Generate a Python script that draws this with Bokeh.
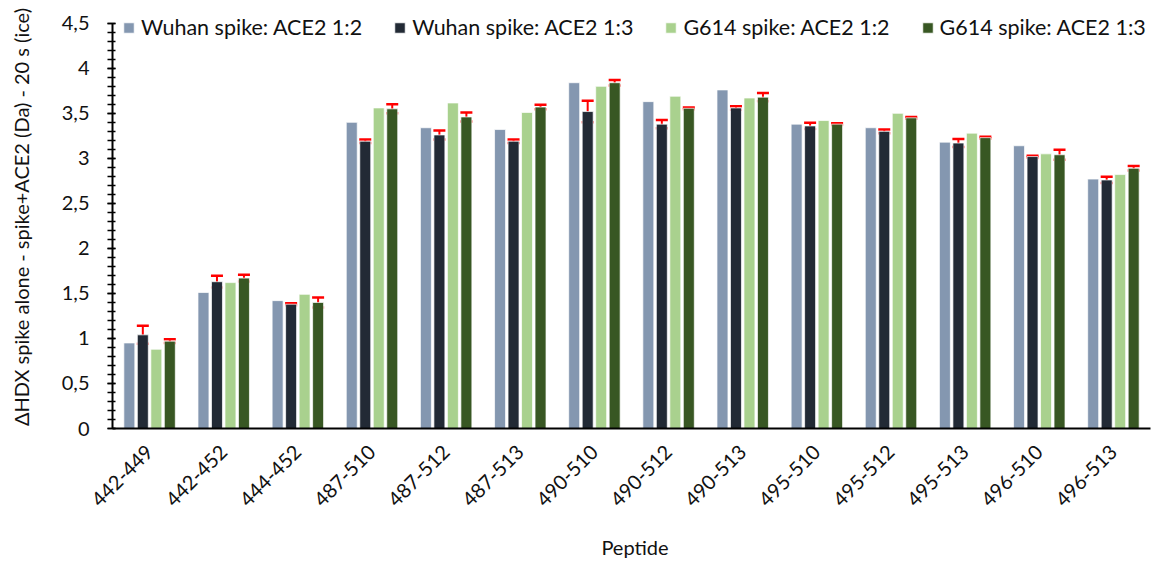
from bokeh.plotting import figure
from bokeh.models import (ColumnDataSource, Whisker, TeeHead, Legend, LegendItem,
                          Range1d, FixedTicker)
from bokeh.embed import file_html
from bokeh.resources import INLINE
import math

# Peptide groups on the x axis
peptides = ["442-449", "442-452", "444-452", "487-510", "487-512", "487-513", "490-510",
            "490-512", "490-513", "495-510", "495-512", "495-513", "496-510", "496-513"]

# Deuterium uptake difference (Da) per condition
wuhan_12 = [0.95, 1.51, 1.42, 3.40, 3.34, 3.32, 3.84, 3.63, 3.76, 3.38, 3.34, 3.18, 3.14, 2.77]
wuhan_13 = [1.04, 1.63, 1.38, 3.19, 3.26, 3.19, 3.52, 3.38, 3.56, 3.36, 3.30, 3.17, 3.02, 2.76]
wuhan_13_err = [0.10, 0.065, 0.01, 0.02, 0.05, 0.02, 0.12, 0.045, 0.02, 0.035, 0.02, 0.045, 0.01, 0.035]
g614_12 = [0.88, 1.62, 1.49, 3.56, 3.615, 3.51, 3.80, 3.69, 3.67, 3.42, 3.50, 3.28, 3.05, 2.82]
g614_13 = [0.97, 1.67, 1.40, 3.55, 3.46, 3.57, 3.84, 3.556, 3.68, 3.38, 3.45, 3.23, 3.04, 2.89]
g614_13_err = [0.02, 0.037, 0.056, 0.05, 0.05, 0.025, 0.03, 0.01, 0.045, 0.01, 0.01, 0.01, 0.055, 0.025]

series_names = ["Wuhan spike: ACE2 1:2", "Wuhan spike: ACE2 1:3",
                "G614 spike: ACE2 1:2", "G614 spike: ACE2 1:3"]
series_values = [wuhan_12, wuhan_13, g614_12, g614_13]
series_errors = [None, wuhan_13_err, None, g614_13_err]
colors = ["#8497B0", "#222A35", "#A9D18E", "#385723"]

y_ticks = [0, 0.5, 1, 1.5, 2, 2.5, 3, 3.5, 4, 4.5]
Y_MAX = 4.5

FONT = "Lato"
TEXT = "#111111"

n = len(peptides)
centers = [i + 0.5 for i in range(n)]
offsets = [-0.273, -0.091, 0.091, 0.273]
bar_w = 0.148

# frame reaches up into the legend strip and out to the right edge;
# the axes themselves stop at the data limits
frame_h, axis_h = 428, 410
frame_w, axis_w = 1045, 1038
p = figure(width=1157, height=561, output_backend="svg", toolbar_location=None,
           x_range=Range1d(0, n * frame_w / axis_w),
           y_range=Range1d(0, Y_MAX * frame_h / axis_h),
           min_border_left=112, min_border_right=0, min_border_top=5, min_border_bottom=128)
p.outline_line_color = None
p.grid.visible = False
p.background_fill_color = "white"
p.border_fill_color = "white"

items = []
for k, (name, vals, errs, col) in enumerate(zip(series_names, series_values, series_errors, colors)):
    xs = [c + offsets[k] for c in centers]
    data = dict(x=xs, top=vals)
    if errs is not None:
        data["upper"] = [v + e for v, e in zip(vals, errs)]
        data["lower"] = [v - e for v, e in zip(vals, errs)]
    src = ColumnDataSource(data)
    r = p.vbar(x="x", top="top", width=bar_w, source=src, fill_color=col,
               line_color="white", line_alpha=0.7, line_width=1)
    items.append(LegendItem(label=name, renderers=[r]))
    if errs is not None:
        w = Whisker(source=src, base="x", upper="upper", lower="lower",
                    line_color="#FF0000", line_width=2,
                    upper_head=TeeHead(size=12, line_color="#FF0000", line_width=2.5),
                    lower_head=TeeHead(size=12, line_color="#FF0000", line_width=2.5))
        p.add_layout(w)

legend = Legend(items=items, orientation="horizontal", location=(10, 388),
                padding=0, margin=0, spacing=31, label_standoff=6,
                glyph_width=13, glyph_height=13,
                label_text_font=FONT, label_text_font_size="21.5px", label_text_color=TEXT,
                background_fill_alpha=0, border_line_color=None)
p.add_layout(legend, "center")

# x axis: one tick per peptide, labels rotated
p.xaxis.bounds = (0, n)
p.xaxis.ticker = FixedTicker(ticks=centers)
p.xaxis.major_label_overrides = {c: lab for c, lab in zip(centers, peptides)}
p.xaxis.major_label_orientation = math.pi / 4
p.xaxis.major_tick_line_color = None
p.xaxis.minor_tick_line_color = None
p.xaxis.axis_line_color = "black"
p.xaxis.axis_line_width = 2
p.xaxis.major_label_text_font = FONT
p.xaxis.major_label_text_font_size = "20px"
p.xaxis.major_label_text_color = TEXT
p.xaxis.major_label_standoff = 14
p.xaxis.axis_label = "Peptide"
p.xaxis.axis_label_text_font = FONT
p.xaxis.axis_label_text_font_size = "20px"
p.xaxis.axis_label_text_font_style = "normal"
p.xaxis.axis_label_text_color = TEXT
p.xaxis.axis_label_standoff = 19

# y axis with decimal commas and minor ticks every 0.1
p.yaxis.bounds = (0, Y_MAX)
p.yaxis.ticker = FixedTicker(ticks=y_ticks, minor_ticks=[round(i * 0.1, 1) for i in range(46)])
p.yaxis.major_label_overrides = {t: (str(t).replace(".", ",") if t != int(t) else str(int(t)))
                                 for t in y_ticks}
p.yaxis.axis_line_color = "black"
p.yaxis.axis_line_width = 2
p.yaxis.major_tick_line_color = "black"
p.yaxis.major_tick_line_width = 1.5
p.yaxis.major_tick_in = 3
p.yaxis.major_tick_out = 5
p.yaxis.minor_tick_line_color = "black"
p.yaxis.minor_tick_line_width = 1.5
p.yaxis.minor_tick_in = 3
p.yaxis.minor_tick_out = 5
p.yaxis.major_label_text_font = FONT
p.yaxis.major_label_text_font_size = "20px"
p.yaxis.major_label_text_color = TEXT
p.yaxis.major_label_standoff = 18
p.yaxis.axis_label = "\u0394HDX spike alone - spike+ACE2 (Da) - 20 s (ice)"
p.yaxis.axis_label_text_font = FONT
p.yaxis.axis_label_text_font_size = "20px"
p.yaxis.axis_label_text_font_style = "normal"
p.yaxis.axis_label_text_color = TEXT
p.yaxis.axis_label_standoff = 26

open("out.html", "w").write(file_html(p, INLINE))
